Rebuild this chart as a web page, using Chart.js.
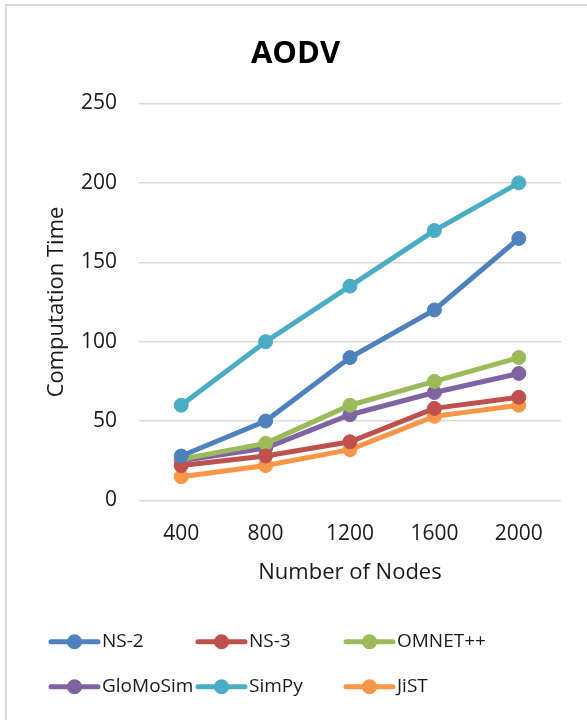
<!DOCTYPE html>
<html>
<head>
<meta charset="utf-8">
<script src="https://cdn.jsdelivr.net/npm/chart.js@4/dist/chart.umd.min.js"></script>
<style>
  html, body { margin: 0; padding: 0; background: #fff; overflow: hidden; }
  #wrap { position: relative; width: 587px; height: 720px; }
  #frame { position: absolute; left: 5px; top: 4px; width: 700px; height: 800px; border: 2px solid #d9d9d9; box-sizing: border-box; }
  canvas { position: absolute; left: 0; top: 0; }
</style>
</head>
<body>
<div id="wrap">
  <div id="frame"></div>
  <canvas id="c" width="587" height="720"></canvas>
</div>
<script>
const categories = ['400', '800', '1200', '1600', '2000'];
const seriesNames = ['NS-2', 'NS-3', 'OMNET++', 'GloMoSim', 'SimPy', 'JiST'];
const ns2 = [28, 50, 90, 120, 165];
const ns3 = [22, 28, 37, 58, 65];
const omnet = [26, 36, 60, 75, 90];
const glomosim = [25, 33, 54, 68, 80];
const simpy = [60, 100, 135, 170, 200];
const jist = [15, 22, 32, 53, 60];
const colors = ['#4F81BD', '#C0504D', '#9BBB59', '#8064A2', '#4BACC6', '#F79646'];
const yTicks = [0, 50, 100, 150, 200, 250];

const seriesData = [ns2, ns3, omnet, glomosim, simpy, jist];
const FONT = "'Open Sans', 'Liberation Sans', sans-serif";

const datasets = seriesNames.map((name, i) => ({
  label: name,
  data: seriesData[i],
  borderColor: colors[i],
  backgroundColor: colors[i],
  pointBackgroundColor: colors[i],
  pointBorderColor: colors[i],
  borderWidth: 5,
  pointRadius: 7,
  pointBorderWidth: 1,
  tension: 0
}));

const legendPlugin = {
  id: 'gridLegend',
  afterDraw(chart) {
    const ctx = chart.ctx;
    const cols = [50, 197, 345];
    const rows = [641.7, 686.7];
    ctx.save();
    chart.data.datasets.forEach((ds, i) => {
      const x0 = cols[i % 3];
      const y = rows[Math.floor(i / 3)];
      ctx.strokeStyle = ds.borderColor;
      ctx.lineWidth = 5;
      ctx.lineCap = 'round';
      ctx.beginPath();
      ctx.moveTo(x0 + 1, y);
      ctx.lineTo(x0 + 48, y);
      ctx.stroke();
      ctx.fillStyle = ds.borderColor;
      ctx.beginPath();
      ctx.arc(x0 + 24.5, y, 7.5, 0, Math.PI * 2);
      ctx.fill();
      ctx.fillStyle = '#1a1a1a';
      ctx.font = '19px ' + FONT;
      ctx.textBaseline = 'middle';
      ctx.textAlign = 'left';
      ctx.fillText(ds.label, x0 + 52, y);
    });
    ctx.restore();
  }
};

new Chart(document.getElementById('c'), {
  type: 'line',
  data: { labels: categories, datasets: datasets },
  options: {
    responsive: false,
    animation: false,
    devicePixelRatio: 1,
    layout: { padding: { left: 30, right: 26, top: 10, bottom: 129.5 } },
    plugins: {
      legend: { display: false },
      tooltip: { enabled: false },
      title: {
        display: true,
        text: 'AODV',
        color: '#000',
        font: { family: FONT, size: 31, weight: 'bold' },
        padding: { top: 25.4, bottom: 30.9 }
      }
    },
    scales: {
      x: {
        offset: true,
        grid: { display: false },
        border: { display: false },
        ticks: { color: '#1a1a1a', font: { family: FONT, size: 21 }, padding: 13, maxRotation: 0 },
        title: {
          display: true,
          text: 'Number of Nodes',
          color: '#1a1a1a',
          font: { family: FONT, size: 22 },
          padding: { top: 0, bottom: 4.8 }
        },
        afterFit(scale) { scale.height = 90; }
      },
      y: {
        min: 0,
        max: 250,
        afterBuildTicks(scale) { scale.ticks = yTicks.map(v => ({ value: v })); },
        grid: { color: '#d9d9d9', lineWidth: 1.5, drawTicks: false },
        border: { display: false },
        ticks: { color: '#1a1a1a', font: { family: FONT, size: 21 }, padding: 22 },
        title: {
          display: true,
          text: 'Computation Time',
          color: '#1a1a1a',
          font: { family: FONT, size: 22 },
          padding: { top: 14, bottom: 0 }
        },
        afterFit(scale) { scale.width = 109; }
      }
    }
  },
  plugins: [legendPlugin]
});
</script>
</body>
</html>
